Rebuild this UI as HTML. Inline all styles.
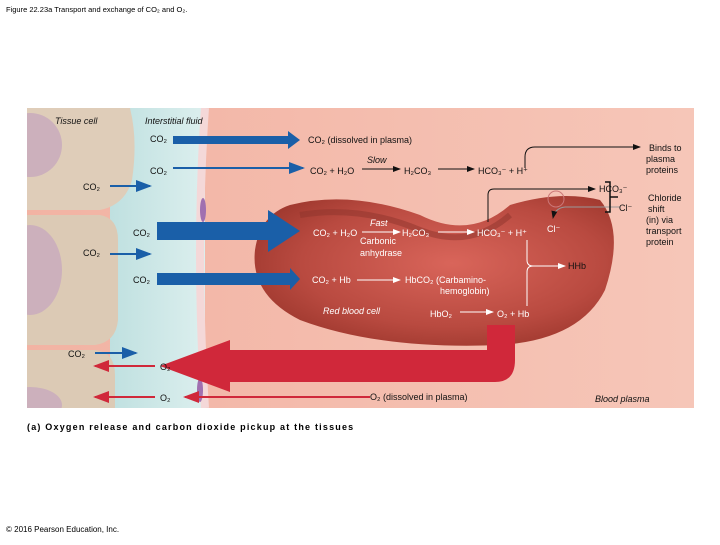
<!DOCTYPE html>
<html><head><meta charset="utf-8"><style>
body{margin:0;background:#fff;width:720px;height:540px;overflow:hidden;font-family:"Liberation Sans",sans-serif}
svg text{font-family:"Liberation Sans",sans-serif}
</style></head><body>
<svg width="720" height="540" viewBox="0 0 720 540" xmlns="http://www.w3.org/2000/svg">
<defs>
<clipPath id="panel"><rect x="27" y="108" width="667" height="300"/></clipPath>
<linearGradient id="pl" x1="0" x2="1" y1="0" y2="0"><stop offset="0" stop-color="#f2b3a3"/><stop offset="1" stop-color="#f6c6b8"/></linearGradient>
<linearGradient id="fl" x1="0" x2="1"><stop offset="0" stop-color="#bfe0e0"/><stop offset="1" stop-color="#dcefee"/></linearGradient>
<radialGradient id="rbc" cx="0.55" cy="0.45" r="0.6"><stop offset="0" stop-color="#d9655a"/><stop offset="0.7" stop-color="#b94a40"/><stop offset="1" stop-color="#a0392f"/></radialGradient>
<marker id="ab" markerWidth="8" markerHeight="6" refX="7" refY="3" orient="auto"><path d="M0,0L8,3L0,6z" fill="#1a5fa8"/></marker>
<marker id="ak" markerWidth="8" markerHeight="6" refX="7" refY="3" orient="auto"><path d="M0,0L8,3L0,6z" fill="#111"/></marker>
<marker id="aw" markerWidth="8" markerHeight="6" refX="7" refY="3" orient="auto"><path d="M0,0L8,3L0,6z" fill="#fff"/></marker>
<marker id="ar" markerWidth="8" markerHeight="6" refX="7" refY="3" orient="auto"><path d="M0,0L8,3L0,6z" fill="#d0283a"/></marker>
</defs>
<text x="6" y="12" font-size="7.5">Figure 22.23a Transport and exchange of CO₂ and O₂.</text>
<g clip-path="url(#panel)">
<rect x="27" y="108" width="667" height="300" fill="url(#pl)"/>
<rect x="110" y="108" width="95" height="300" fill="url(#fl)"/>
<path d="M205,108 Q195,250 205,408" stroke="#f4d8d8" stroke-width="8" fill="none"/>
<ellipse cx="203" cy="210" rx="3" ry="12" fill="#a070b0"/>
<ellipse cx="200" cy="390" rx="3" ry="12" fill="#a070b0"/>
<path d="M27,108 H130 Q138,140 132,180 Q125,205 100,210 H27z" fill="#dfcdb9"/>
<path d="M27,215 H100 Q118,218 118,240 V320 Q116,342 95,345 H27z" fill="#dccab5"/>
<path d="M27,350 H95 Q115,352 115,375 V408 H27z" fill="#dccab5"/>
<ellipse cx="30" cy="145" rx="32" ry="32" fill="#ccb0bc"/>
<ellipse cx="30" cy="270" rx="32" ry="45" fill="#ccb0bc"/>
<ellipse cx="30" cy="405" rx="32" ry="18" fill="#ccb0bc"/>
</g>
<path d="M290,205 Q350,190 420,215 Q470,240 510,205 Q560,190 600,200 Q625,230 605,290 Q580,340 500,345 Q380,350 300,320 Q250,295 255,250 Q260,215 290,205z" fill="url(#rbc)"/>
<path d="M300,215 Q360,205 420,230 Q470,250 510,215" stroke="#8e332b" stroke-width="6" fill="none" opacity="0.5"/>
<path d="M487,325 H515 V360 Q515,382 495,382 H230 V392 L160,366 L230,340 V350 H487z" fill="#d0283a"/>
<line x1="370" y1="397" x2="185" y2="397" stroke="#d0283a" stroke-width="2" marker-end="url(#ar)"/>
<line x1="155" y1="366" x2="95" y2="366" stroke="#d0283a" stroke-width="2" marker-end="url(#ar)"/>
<line x1="155" y1="397" x2="95" y2="397" stroke="#d0283a" stroke-width="2" marker-end="url(#ar)"/>
<path d="M173,136 H288 V131 L300,140 L288,149 V144 H173z" fill="#1a5fa8"/>
<line x1="173" y1="168" x2="303" y2="168" stroke="#1a5fa8" stroke-width="2" marker-end="url(#ab)"/>
<line x1="110" y1="186" x2="150" y2="186" stroke="#1a5fa8" stroke-width="2" marker-end="url(#ab)"/>
<path d="M157,222 H268 V210 L300,231 L268,252 V240 H157z" fill="#1a5fa8"/>
<line x1="110" y1="254" x2="150" y2="254" stroke="#1a5fa8" stroke-width="2" marker-end="url(#ab)"/>
<path d="M157,273 H290 V268 L300,279 L290,290 V285 H157z" fill="#1a5fa8"/>
<line x1="95" y1="353" x2="136" y2="353" stroke="#1a5fa8" stroke-width="2" marker-end="url(#ab)"/>
<g stroke="#111" stroke-width="1" fill="none">
<line x1="362" y1="169" x2="400" y2="169" marker-end="url(#ak)"/>
<line x1="438" y1="169" x2="474" y2="169" marker-end="url(#ak)"/>
<path d="M525,168 V157 Q525,147 535,147 H640" marker-end="url(#ak)"/>
<path d="M488,222 V195 Q488,189 494,189 H595" marker-end="url(#ak)"/>
<path d="M620,207 H565 Q555,208 553,218" stroke="#999" marker-end="url(#ak)"/>
<path d="M605,182 H610 V212 H605 M610,197 H618" stroke-width="1.5"/>
</g>
<circle cx="556" cy="199" r="8" stroke="#c77" stroke-width="1" fill="none"/>
<g stroke="#fff" stroke-width="1" fill="none">
<line x1="362" y1="232" x2="400" y2="232" marker-end="url(#aw)"/>
<line x1="438" y1="232" x2="474" y2="232" marker-end="url(#aw)"/>
<line x1="357" y1="280" x2="400" y2="280" marker-end="url(#aw)"/>
<line x1="460" y1="312" x2="493" y2="312" marker-end="url(#aw)"/>
<path d="M527,240 V260 Q527,266 533,266 Q527,266 527,272 V306 M533,266 H565" marker-end="url(#aw)"/>
</g>
<g font-size="9" fill="#111">
<text x="55" y="124" font-style="italic">Tissue cell</text>
<text x="145" y="124" font-style="italic">Interstitial fluid</text>
<text x="150" y="142">CO₂</text>
<text x="308" y="143">CO₂ (dissolved in plasma)</text>
<text x="150" y="174">CO₂</text>
<text x="310" y="174">CO₂ + H₂O</text>
<text x="367" y="163" font-style="italic">Slow</text>
<text x="404" y="174">H₂CO₃</text>
<text x="478" y="174">HCO₃⁻ + H⁺</text>
<text x="649" y="151">Binds to</text>
<text x="646" y="162">plasma</text>
<text x="646" y="173">proteins</text>
<text x="83" y="190">CO₂</text>
<text x="599" y="192">HCO₃⁻</text>
<text x="619" y="211">Cl⁻</text>
<text x="648" y="201">Chloride</text>
<text x="648" y="212">shift</text>
<text x="646" y="223">(in) via</text>
<text x="646" y="234">transport</text>
<text x="646" y="245">protein</text>
<text x="133" y="236">CO₂</text>
<text x="83" y="256">CO₂</text>
<text x="133" y="283">CO₂</text>
<text x="68" y="357">CO₂</text>
<text x="160" y="370">O₂</text>
<text x="160" y="401">O₂</text>
<text x="370" y="400">O₂ (dissolved in plasma)</text>
<text x="595" y="402" font-style="italic">Blood plasma</text>
<text x="568" y="269">HHb</text>
</g>
<g font-size="9" fill="#fff">
<text x="313" y="236">CO₂ + H₂O</text>
<text x="370" y="226" font-style="italic">Fast</text>
<text x="402" y="236">H₂CO₃</text>
<text x="360" y="244">Carbonic</text>
<text x="360" y="256">anhydrase</text>
<text x="477" y="236">HCO₃⁻ + H⁺</text>
<text x="547" y="232">Cl⁻</text>
<text x="312" y="283">CO₂ + Hb</text>
<text x="405" y="283">HbCO₂ (Carbamino-</text>
<text x="440" y="294">hemoglobin)</text>
<text x="323" y="314" font-style="italic">Red blood cell</text>
<text x="430" y="317">HbO₂</text>
<text x="497" y="317">O₂ + Hb</text>
</g>
<text x="27" y="430" font-size="9" font-weight="bold" letter-spacing="1.2">(a) Oxygen release and carbon dioxide pickup at the tissues</text>
<text x="6" y="532" font-size="8">© 2016 Pearson Education, Inc.</text>
</svg>
</body></html>
